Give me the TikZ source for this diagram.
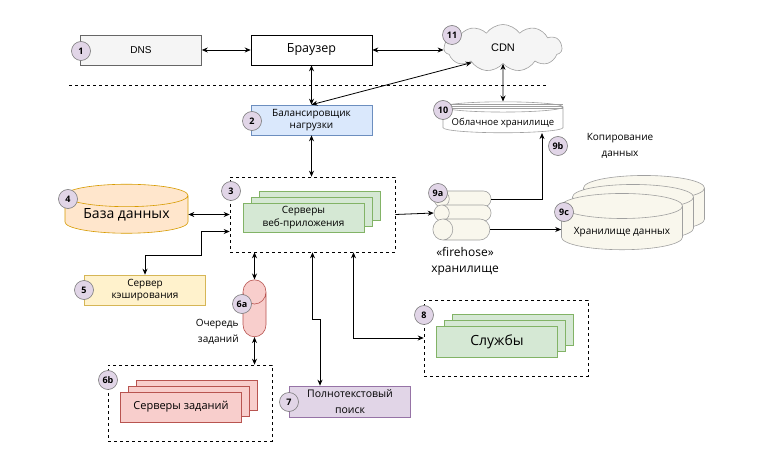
\documentclass[tikz,border=0pt]{standalone}
\usepackage{fontspec}
\setmainfont{Open Sans}
\newfontfamily\helv{Liberation Sans}
\usetikzlibrary{shapes.geometric,shapes.symbols,shadows,arrows.meta}
\definecolor{numfill}{HTML}{E1D5E7}
\definecolor{numline}{HTML}{7A7A7A}
\definecolor{dnsfill}{HTML}{F5F5F5}
\definecolor{dnsline}{HTML}{666666}
\definecolor{lbfill}{HTML}{DAE8FC}
\definecolor{lbline}{HTML}{6C8EBF}
\definecolor{dbfill}{HTML}{FFE6CC}
\definecolor{dbline}{HTML}{D79B00}
\definecolor{cachefill}{HTML}{FFF2CC}
\definecolor{cacheline}{HTML}{D6B656}
\definecolor{webfill}{HTML}{D5E8D4}
\definecolor{webline}{HTML}{82B366}
\definecolor{jobfill}{HTML}{F8CECC}
\definecolor{jobline}{HTML}{B85450}
\definecolor{srchfill}{HTML}{E1D5E7}
\definecolor{srchline}{HTML}{9673A6}
\definecolor{storfill}{HTML}{F9F7ED}
\definecolor{storline}{HTML}{A0A0A0}
\newcommand{\fs}[2]{\fontsize{#1}{#2}\selectfont}

\begin{document}
\begin{tikzpicture}[x=1pt,y=1pt,>={Stealth[length=6pt,width=5pt]},line width=0.8pt]
\tikzstyle{every node}+=[inner sep=0pt]
\tikzstyle{box}=[draw,rectangle,line width=0.6pt,minimum width=121pt,minimum height=30pt,align=center,font=\fs{10}{12.5}]
\tikzstyle{grp}=[draw,dashed,rectangle,line width=0.6pt]
\tikzstyle{num}=[circle,draw=numline,fill=numfill,line width=0.6pt,minimum size=19pt,font=\bfseries\fs{9}{10}]
\tikzstyle{stack}=[double copy shadow={shadow xshift=8pt,shadow yshift=6pt}]
\tikzstyle{can}=[cylinder,shape border rotate=90,draw,line width=0.6pt,align=center]
\tikzstyle{fire}=[cylinder,shape border rotate=180,draw=storline,fill=storfill,line width=0.6pt,aspect=0.95,minimum height=57pt]
\useasboundingbox (0,0) rectangle (759,-462);
\fill[white] (0,0) rectangle (759,-462);
\node[box,fill=dnsfill,draw=dnsline,font=\helv\fs{10}{12}] (dns) at (141,-50) {DNS};
\node[box,fill=white,font=\fs{12.5}{15}] (browser) at (311.5,-50) {Браузер};
\node[cloud,cloud puffs=11,cloud puff arc=110,aspect=2.4,draw=storline,fill=dnsfill,line width=0.6pt,minimum width=118pt,minimum height=47pt,font=\helv\fs{11}{13}] (cdn) at (503,-48) {CDN};
\draw[dashed,line width=0.6pt] (69,-85) -- (546,-85);
\node[box,fill=lbfill,draw=lbline] (lb) at (311.5,-120) {Балансировщик\\нагрузки};
\node[can,fill=white,draw=storline,aspect=0.1,minimum width=120pt,minimum height=29pt,font=\fs{9.5}{11}] (cloudst) at (503,-120) {\\[2pt]Облачное хранилище};
\foreach \d in {3,5,7}
  \draw[storline,line width=0.4pt] ([xshift=-60pt,yshift=-\d pt]cloudst.north) -- ([xshift=60pt,yshift=-\d pt]cloudst.north);
\node[grp,minimum width=165pt,minimum height=75pt] (webgrp) at (312.5,-214.5) {};
\node[box,stack,fill=webfill,draw=webline,minimum height=29pt] (web) at (303.5,-217.5) {Серверы\\веб-приложения};
\node[can,fill=dbfill,draw=dbline,aspect=0.26,minimum width=123pt,minimum height=49pt,font=\fs{14}{16}] (db) at (126.5,-214.5) {База данных};
\node[box,fill=cachefill,draw=cacheline] (cache) at (145,-290) {Сервер\\кэширования};
\node[can,fill=jobfill,draw=jobline,aspect=1.1,minimum width=23pt,minimum height=57pt] (queue) at (254.5,-314.5) {\hspace*{22pt}};
\node[anchor=east,align=right,font=\fs{10}{16}] (queuetxt) at (239,-332) {Очередь\\заданий};
\node[grp,minimum width=164pt,minimum height=76pt] (jobgrp) at (190,-403) {};
\node[box,stack,fill=jobfill,draw=jobline,font=\fs{11}{13}] (jobs) at (181,-407) {Серверы заданий};
\node[box,fill=srchfill,draw=srchline,minimum height=31pt,font=\fs{10.5}{16}] (search) at (350,-401.5) {Полнотекстовый\\поиск};
\node[grp,minimum width=164pt,minimum height=76pt] (svcgrp) at (506,-338) {};
\node[box,stack,fill=webfill,draw=webline,minimum height=31pt,font=\fs{14}{16}] (svc) at (497,-341.5) {Службы};
\node[fire] (fh1) at (466.5,-199) {\rule{0pt}{16pt}};
\node[fire] (fh2) at (466.5,-213) {\rule{0pt}{16pt}};
\node[fire] (fh3) at (466.5,-229.5) {\rule{0pt}{21pt}};
\node[align=center,font=\fs{12}{16}] (fhtxt) at (465,-261) {«firehose»\\хранилище};
\node[can,fill=storfill,draw=storline,aspect=0.26,minimum width=121pt,minimum height=47pt,font=\fs{10}{12},double copy shadow={shadow xshift=11pt,shadow yshift=9pt}] (ds) at (622,-228) {\\[4pt]Хранилище данных};
\node[align=center,font=\fs{10}{16}] (copytxt) at (620,-146) {Копирование\\данных};
\draw[<->] (dns.east) -- (browser.west);
\draw[<->] (browser.east) -- (cdn.west |- browser.east);
\draw[<->] (browser.south) -- (lb.north);
\draw[<->] (lb.north) -- (cdn.205);
\draw[<->] (cdn.south) -- (cloudst.north);
\draw[<->] (lb.south) -- (lb.south |- webgrp.north);
\draw[<->] (db.east) -- (webgrp.west);
\draw[<->] ([yshift=-17pt]webgrp.west) -| ([xshift=56pt,yshift=19pt]cache.north) -| (cache.north);
\draw[<->] (queue.north |- webgrp.south) -- (queue.north);
\draw[<->] (queue.south) -- (queue.south |- jobgrp.north);
\draw[<->] (webgrp.south) -- ++(0,-67) -| ([xshift=-30pt]search.north);
\draw[<->] ([xshift=41pt]webgrp.south) |- (svcgrp.west);
\draw[->] (webgrp.east) -- (fh2.west);
\draw[->] (fh1.east) -| ([xshift=39pt]cloudst.south);
\draw[->] (fh3.east) -- (fh3.east -| ds.west);
\node[num] (n1) at (81,-51) {1};
\node[num] (n2) at (252,-121) {2};
\node[num] (n3) at (231,-191) {3};
\node[num] (n4) at (68,-199) {4};
\node[num] (n5) at (84,-290) {5};
\node[num] (n6a) at (242,-304) {6a};
\node[num] (n6b) at (108,-380) {6b};
\node[num] (n7) at (289,-402) {7};
\node[num] (n8) at (424,-315) {8};
\node[num] (n9a) at (438,-193) {9a};
\node[num] (n9b) at (558,-146) {9b};
\node[num] (n9c) at (564,-212) {9c};
\node[num] (n10) at (443,-110) {10};
\node[num] (n11) at (452,-35) {11};
\end{tikzpicture}
\end{document}
